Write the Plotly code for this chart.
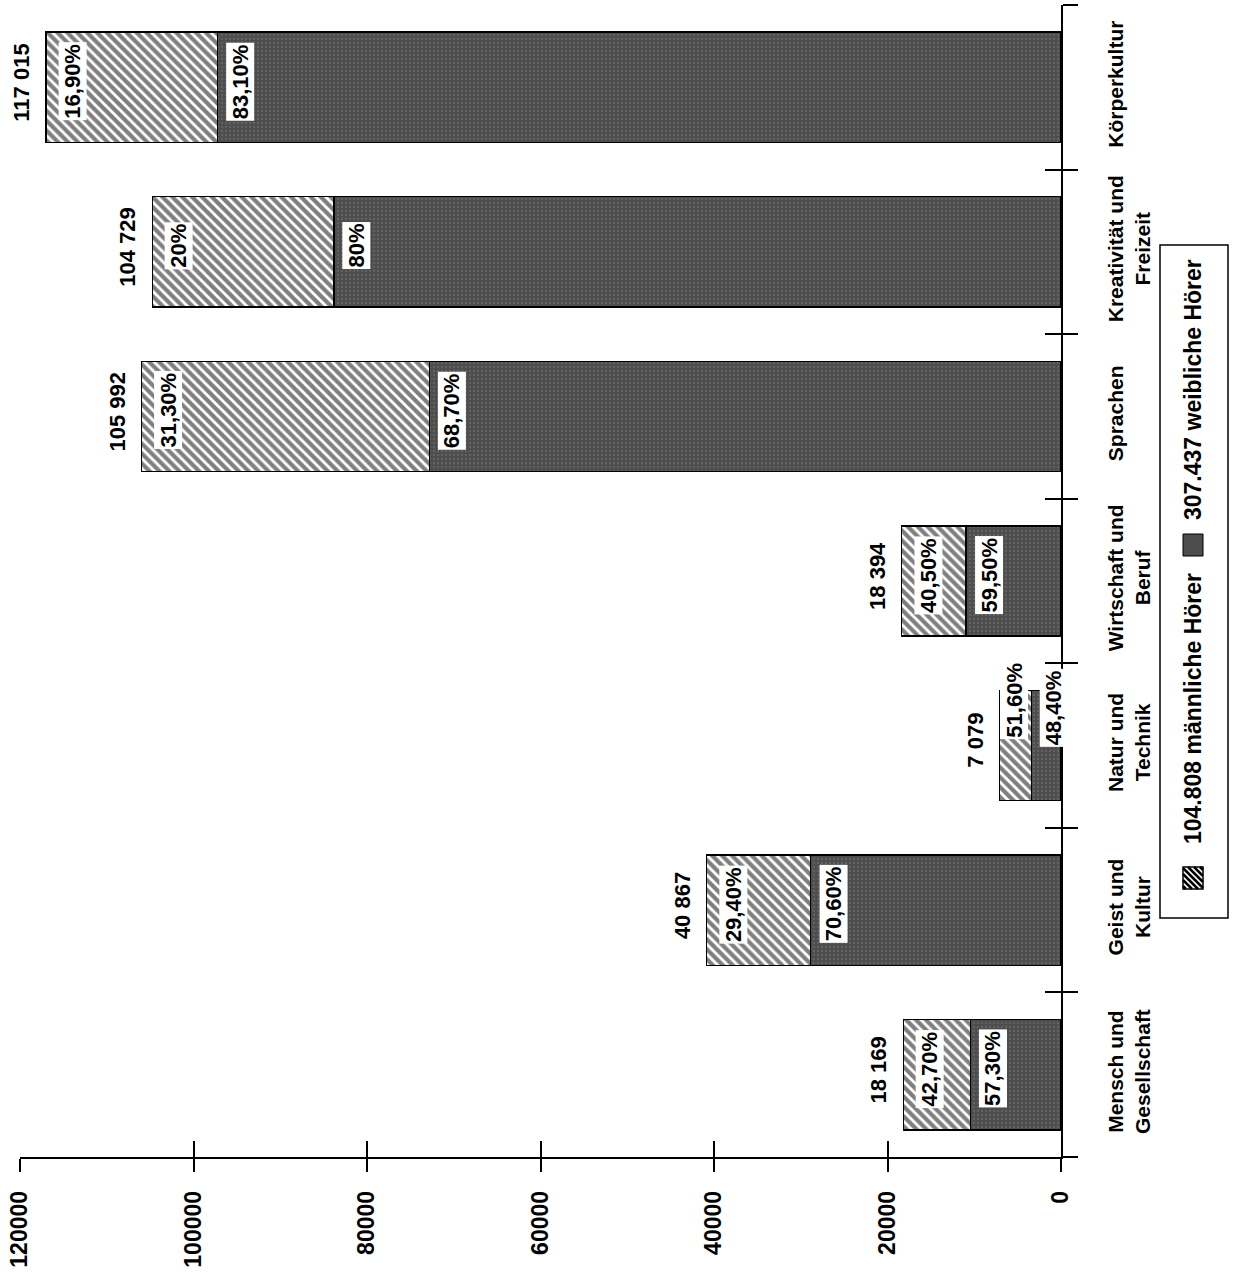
import plotly.graph_objects as go

# ---------------- data ----------------
categories = ["Mensch und<br>Gesellschaft", "Geist und<br>Kultur", "Natur und<br>Technik",
              "Wirtschaft und<br>Beruf", "Sprachen", "Kreativität und<br>Freizeit", "Körperkultur"]
totals = [18169, 40867, 7079, 18394, 105992, 104729, 117015]
male_pct = [42.7, 29.4, 51.6, 40.5, 31.3, 20.0, 16.9]
female_pct = [57.3, 70.6, 48.4, 59.5, 68.7, 80.0, 83.1]
male_text = ["42,70%", "29,40%", "51,60%", "40,50%", "31,30%", "20%", "16,90%"]
female_text = ["57,30%", "70,60%", "48,40%", "59,50%", "68,70%", "80%", "83,10%"]
value_ticks = [0, 20000, 40000, 60000, 80000, 100000, 120000]
legend_texts = ["104.808 männliche Hörer", "307.437 weibliche Hörer"]

female_vals = [t * p / 100 for t, p in zip(totals, female_pct)]
male_vals = [t * p / 100 for t, p in zip(totals, male_pct)]

# ---------------- style ----------------
W, H = 1236, 1281
ML, MR, MT, MB = 20, 175, 5, 124
PW, PH = W - ML - MR, H - MT - MB
FONT = "Liberation Sans, Arial, sans-serif"
DARK = "#4d4d4d"


def px_x(px):
    return (px - ML) / PW


def px_y(py):
    return (H - MB - py) / PH


fig = go.Figure()

fig.add_trace(go.Bar(
    y=categories, x=female_vals, orientation="h", name="weiblich",
    marker=dict(color=DARK, line=dict(color="black", width=1.5),
                pattern=dict(shape=".", fgcolor="#777777", size=4, solidity=0.25)),
    showlegend=False, hoverinfo="skip"))
fig.add_trace(go.Bar(
    y=categories, x=male_vals, orientation="h", name="männlich",
    marker=dict(color="white", line=dict(color="black", width=1.5),
                pattern=dict(shape="\\", fgcolor="black", bgcolor="white", size=7, solidity=0.6)),
    showlegend=False, hoverinfo="skip"))

# invisible helper trace for the overlaid (inner) tick axes
fig.add_trace(go.Scatter(
    y=categories, x=totals, xaxis="x2", yaxis="y2", mode="markers",
    marker=dict(opacity=0), showlegend=False, hoverinfo="skip"))

ann = []
for i, cat in enumerate(categories):
    small = totals[i] < 10000
    ys_m = 45 if small else 6
    ys_f = 38 if small else 6
    ann.append(dict(x=totals[i], y=cat, xref="x", yref="y",
                    text=f"{totals[i]:,}".replace(",", " "), showarrow=False,
                    textangle=-90, xanchor="right", xshift=-10, yshift=5,
                    font=dict(family=FONT, size=22, color="black", weight="bold")))
    ann.append(dict(x=totals[i], y=cat, xref="x", yref="y", text=male_text[i],
                    showarrow=False, textangle=-90, xanchor="left",
                    xshift=0 if small else 12, yshift=ys_m,
                    bgcolor="white", borderpad=1,
                    font=dict(family=FONT, size=22, color="black", weight="bold")))
    ann.append(dict(x=female_vals[i], y=cat, xref="x", yref="y", text=female_text[i],
                    showarrow=False, textangle=-90, xanchor="left", xshift=8, yshift=ys_f,
                    bgcolor="white", borderpad=1,
                    font=dict(family=FONT, size=22, color="black", weight="bold")))

# legend (rotated, drawn by hand)
ann.append(dict(x=px_x(1193), y=px_y(709), xref="paper", yref="paper", text=legend_texts[0],
                showarrow=False, textangle=-90, xanchor="center", yanchor="middle",
                font=dict(family=FONT, size=23, color="black", weight="bold")))
ann.append(dict(x=px_x(1193), y=px_y(390), xref="paper", yref="paper", text=legend_texts[1],
                showarrow=False, textangle=-90, xanchor="center", yanchor="middle",
                font=dict(family=FONT, size=23, color="black", weight="bold")))

shapes = []
shapes.append(dict(type="rect", xref="paper", yref="paper",
                   x0=px_x(1160), x1=px_x(1228), y0=px_y(918), y1=px_y(245),
                   line=dict(color="black", width=1.5), fillcolor="white", layer="below"))
# female swatch
shapes.append(dict(type="rect", xref="paper", yref="paper",
                   x0=px_x(1183), x1=px_x(1203), y0=px_y(556), y1=px_y(534),
                   line=dict(color="black", width=1), fillcolor=DARK))
# male swatch (hatched)
sx0, sx1, sy0, sy1 = 1183, 1203, 867, 889
shapes.append(dict(type="rect", xref="paper", yref="paper",
                   x0=px_x(sx0), x1=px_x(sx1), y0=px_y(sy1), y1=px_y(sy0),
                   line=dict(color="black", width=1.5), fillcolor="white"))
step = 6
c = -(sy1 - sy0) + step / 2
while c < (sx1 - sx0):
    pts = []
    for yy in (0, sy1 - sy0):
        xx = c + yy
        if 0 <= xx <= sx1 - sx0:
            pts.append((xx, yy))
    for xx in (0, sx1 - sx0):
        yy = xx - c
        if 0 <= yy <= sy1 - sy0:
            pts.append((xx, yy))
    pts = sorted(set(pts))
    if len(pts) >= 2:
        (ax, ay), (bx, by) = pts[0], pts[-1]
        shapes.append(dict(type="line", xref="paper", yref="paper",
                           x0=px_x(sx0 + ax), y0=px_y(sy0 + ay),
                           x1=px_x(sx0 + bx), y1=px_y(sy0 + by),
                           line=dict(color="black", width=2.5)))
    c += step

fig.update_layout(
    width=W, height=H,
    margin=dict(l=ML, r=MR, t=MT, b=MB, autoexpand=False),
    paper_bgcolor="white", plot_bgcolor="white",
    barmode="stack", bargap=0.33,
    annotations=ann, shapes=shapes,
    xaxis=dict(range=[120000, 0], tickmode="array", tickvals=value_ticks,
               ticktext=[str(v) for v in value_ticks], tickangle=-90,
               ticks="outside", ticklen=13, tickwidth=1.5, tickcolor="black",
               showline=True, linecolor="black", linewidth=1.5, automargin=False,
               showgrid=False, zeroline=False, ticklabelstandoff=10,
               tickfont=dict(family=FONT, size=23, color="black", weight="bold")),
    yaxis=dict(side="right", type="category", categoryorder="array", categoryarray=categories,
               range=[-0.5, 6.5], tickangle=-90, tickson="boundaries", automargin=False,
               ticks="outside", ticklen=15, tickwidth=1.5, tickcolor="black",
               showline=True, linecolor="black", linewidth=1.5,
               showgrid=False, zeroline=False, ticklabelstandoff=35,
               tickfont=dict(family=FONT, size=21, color="black", weight="bold")),
    xaxis2=dict(overlaying="x", anchor="y2", side="bottom", range=[120000, 0],
                tickmode="array", tickvals=value_ticks, ticks="inside", ticklen=16,
                tickwidth=1.5, tickcolor="black", showticklabels=False, automargin=False,
                showline=False, showgrid=False, zeroline=False),
    yaxis2=dict(overlaying="y", anchor="x2", side="right", type="category",
                categoryorder="array", categoryarray=categories, range=[-0.5, 6.5],
                tickson="boundaries", ticks="inside", ticklen=16, tickwidth=1.5,
                tickcolor="black", showticklabels=False, showline=False, automargin=False,
                showgrid=False, zeroline=False),
)

fig.write_html("out.html", config={"displayModeBar": False},
               post_script="document.body.style.margin='0px'; document.body.style.overflow='hidden';")
